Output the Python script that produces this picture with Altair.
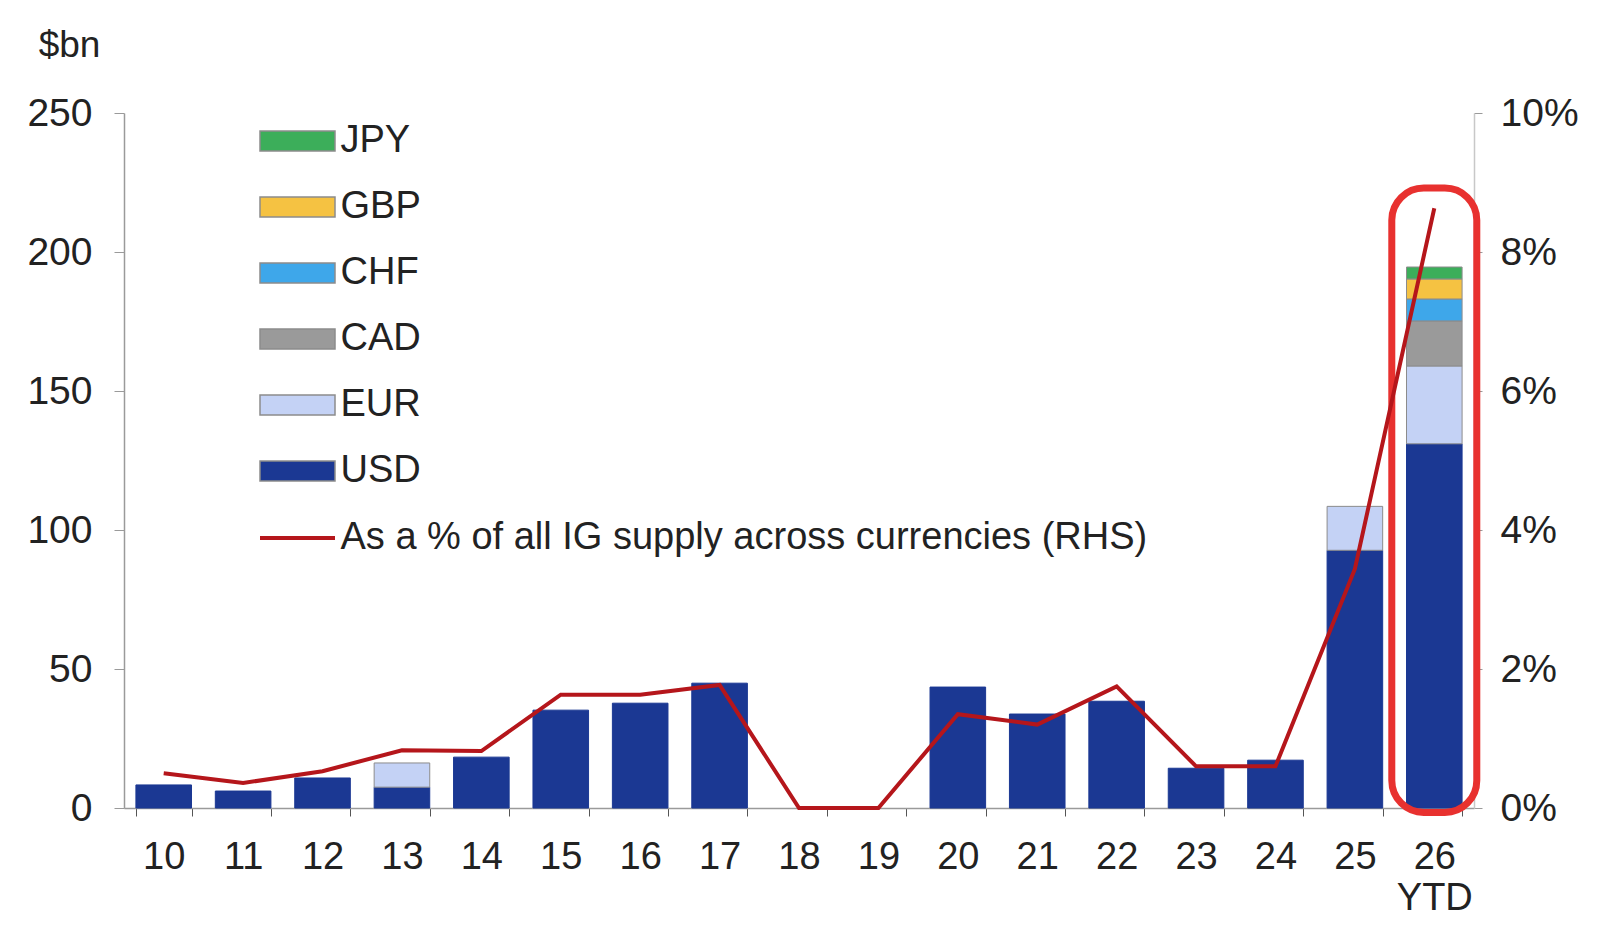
import pandas as pd
import altair as alt

# Issue year (20xx), 26 = year to date
years = ["10", "11", "12", "13", "14", "15", "16", "17", "18",
         "19", "20", "21", "22", "23", "24", "25", "26"]

# $bn by currency
usd = [8.3, 6.1, 10.8, 7.5, 18.3, 35.2, 37.7, 44.9, 0, 0, 43.5, 33.8, 38.4, 14.3, 17.2, 92.7, 131.0]
eur = [0, 0, 0, 8.7, 0, 0, 0, 0, 0, 0, 0, 0, 0, 0, 0, 15.8, 28.0]
cad = [0, 0, 0, 0, 0, 0, 0, 0, 0, 0, 0, 0, 0, 0, 0, 0, 16.2]
chf = [0, 0, 0, 0, 0, 0, 0, 0, 0, 0, 0, 0, 0, 0, 0, 0, 7.9]
gbp = [0, 0, 0, 0, 0, 0, 0, 0, 0, 0, 0, 0, 0, 0, 0, 0, 7.2]
jpy = [0, 0, 0, 0, 0, 0, 0, 0, 0, 0, 0, 0, 0, 0, 0, 0, 4.3]

# share of all IG supply across currencies (RHS)
ig_share = [0.0050, 0.0036, 0.0053, 0.0083, 0.0082, 0.0163, 0.0163, 0.0177, 0.0, 0.0,
            0.0135, 0.0120, 0.0175, 0.0060, 0.0060, 0.0344, 0.0863]
line_label = "As a % of all IG supply across currencies (RHS)"

currencies = ["JPY", "GBP", "CHF", "CAD", "EUR", "USD"]
colors = ["#3cae5a", "#f5c242", "#3ea7ea", "#9a9a9a", "#c4d2f5", "#1b3893"]
stack_order = ["USD", "EUR", "CAD", "CHF", "GBP", "JPY"]

# highlight box around the YTD bar, in $bn
highlight_year = "26"
highlight_lo = -1.6
highlight_hi = 223

series = {"USD": usd, "EUR": eur, "CAD": cad, "CHF": chf, "GBP": gbp, "JPY": jpy}
rows = []
for cur, vals in series.items():
    for yr, v in zip(years, vals):
        if v > 0:
            rows.append({"year": yr, "currency": cur, "value": v,
                         "rank": stack_order.index(cur)})
bar_df = pd.DataFrame(rows)
line_df = pd.DataFrame({"year": years, "share": ig_share, "series": line_label})
hl_df = pd.DataFrame({"year": [highlight_year], "lo": [highlight_lo], "hi": [highlight_hi]})

navy = "#1b3893"
text_col = "#222222"
axis_col = "#9a9a9a"
rect_path = "M-3.75,-1L3.75,-1L3.75,1L-3.75,1Z"

x_enc = alt.X(
    "year:N", sort=years, title=None,
    scale=alt.Scale(paddingInner=0.3, paddingOuter=0.15),
    axis=alt.Axis(
        labelExpr="datum.value == '26' ? ['26', 'YTD'] : datum.label",
        labelFontSize=38, labelColor=text_col, labelAngle=0,
        labelLineHeight=41, labelPadding=22,
        tickBand="extent", tickSize=8, tickColor="#555555",
        domainColor=axis_col, domainWidth=1.5
    )
)

bars = alt.Chart(bar_df).mark_bar(strokeWidth=1).encode(
    x=x_enc,
    y=alt.Y(
        "value:Q", stack="zero",
        scale=alt.Scale(domain=[0, 250], nice=False),
        axis=alt.Axis(
            values=[0, 50, 100, 150, 200, 250], title="$bn",
            titleAngle=0, titleX=-55, titleY=-68, titleAlign="center",
            titleBaseline="middle", titleFontSize=37, titleFontWeight="normal",
            titleColor=text_col, labelFontSize=39, labelColor=text_col,
            labelPadding=22, tickSize=10, tickColor=axis_col,
            domainColor=axis_col, domainWidth=1.5, grid=False
        )
    ),
    color=alt.Color(
        "currency:N",
        scale=alt.Scale(domain=currencies, range=colors),
        legend=alt.Legend(
            title=None, orient="none", legendX=154.5, legendY=9,
            direction="vertical", symbolType=rect_path, symbolSize=400,
            symbolStrokeColor="#8c8c8c", symbolStrokeWidth=1.5,
            labelFontSize=38, labelColor=text_col, labelOffset=24,
            rowPadding=28, padding=0
        )
    ),
    stroke=alt.condition(alt.datum.currency == "USD", alt.value(navy), alt.value("#8c8c8c")),
    order=alt.Order("rank:Q", sort="ascending"),
)

highlight = alt.Chart(hl_df).mark_bar(
    size=85, cornerRadius=32, fillOpacity=0, stroke="#e8312f", strokeWidth=7
).encode(
    x=alt.X("year:N", sort=years),
    y=alt.Y("lo:Q", scale=alt.Scale(domain=[0, 250], nice=False), axis=None),
    y2="hi:Q",
)

line = alt.Chart(line_df).mark_line(strokeWidth=4).encode(
    x=alt.X("year:N", sort=years),
    y=alt.Y(
        "share:Q",
        scale=alt.Scale(domain=[0, 0.1], nice=False),
        axis=alt.Axis(
            orient="right", title=None, format=".0%",
            values=[0, 0.02, 0.04, 0.06, 0.08, 0.1],
            labelFontSize=39, labelColor=text_col, labelPadding=18,
            tickSize=8, tickColor=axis_col, domainColor="#c8c8c8",
            domainWidth=1.5, grid=False
        )
    ),
    stroke=alt.Stroke(
        "series:N",
        scale=alt.Scale(domain=[line_label], range=["#b5161b"]),
        legend=alt.Legend(
            title=None, orient="none", legendX=154.5, legendY=406,
            symbolType="M-3.75,0L3.75,0", symbolSize=400, symbolStrokeWidth=4,
            labelFontSize=38, labelColor=text_col, labelOffset=24,
            labelLimit=1200, padding=0
        )
    ),
)

chart = alt.layer(bars, highlight, line).resolve_scale(
    y="independent"
).properties(
    width=1350,
    height=695,
    autosize=alt.AutoSizeParams(type="none"),
    padding={"left": 116, "top": 105, "right": 110, "bottom": 108},
).configure(
    font="Liberation Sans"
).configure_view(
    stroke=None
)

chart.save("out.html", embed_options={"renderer": "svg", "actions": False})
